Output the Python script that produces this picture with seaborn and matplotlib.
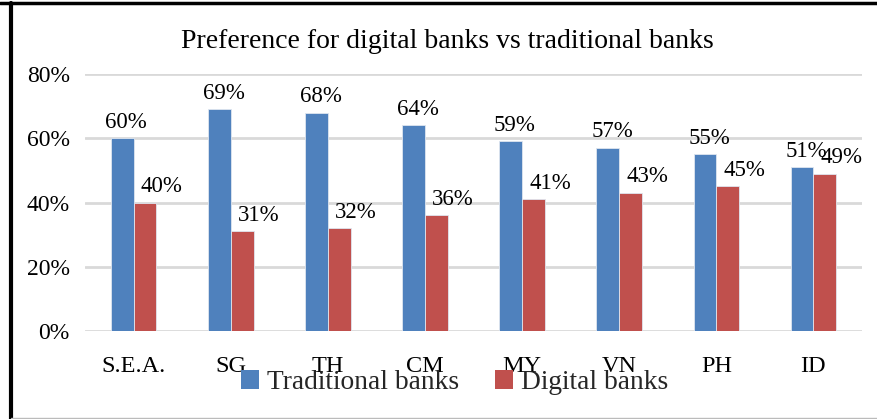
import matplotlib
matplotlib.use("Agg")
import matplotlib.pyplot as plt
import seaborn as sns
import pandas as pd
from matplotlib.lines import Line2D
from matplotlib.patches import Patch
from matplotlib.ticker import PercentFormatter

categories = ["S.E.A.", "SG", "TH", "CM", "MY", "VN", "PH", "ID"]
traditional = [60, 69, 68, 64, 59, 57, 55, 51]
digital = [40, 31, 32, 36, 41, 43, 45, 49]
series_names = ["Traditional banks", "Digital banks"]
colors = ["#4F81BD", "#C0504D"]
title = "Preference for digital banks vs traditional banks"
yticks = [0, 20, 40, 60, 80]

df = pd.DataFrame({
    "Region": categories * 2,
    "Series": [series_names[0]] * len(categories) + [series_names[1]] * len(categories),
    "Value": traditional + digital,
})

sns.set_theme(style="white")
plt.rcParams["font.family"] = ["Liberation Serif", "DejaVu Serif"]

fig = plt.figure(figsize=(8.78, 4.19), dpi=100)
ax = fig.add_axes([0.0968, 0.21, 0.885, 0.6134])

sns.barplot(data=df, x="Region", y="Value", hue="Series", palette=colors,
            width=0.47, gap=0, ax=ax, edgecolor="#dfe6f0", linewidth=0.6,
            saturation=1)

ax.set_xlim(-0.5, len(categories) - 0.5)
ax.set_ylim(0, 80)
ax.set_yticks(yticks)
ax.yaxis.set_major_formatter(PercentFormatter(decimals=0))
ax.grid(axis="y", color="#D9D9D9", linewidth=2)
ax.set_axisbelow(True)
for s in ax.spines.values():
    s.set_visible(False)
ax.set_xlabel("")
ax.set_ylabel("")
ax.tick_params(axis="y", labelsize=17, pad=11, length=0, colors="black")
ax.tick_params(axis="x", labelsize=17.5, pad=18, length=0, colors="black")

offsets = [(3, 4), (12, 4)]
for cont, off in zip(ax.containers, offsets):
    anns = ax.bar_label(cont, fmt="%d%%", fontsize=16.5, padding=4, color="black")
    for a in anns:
        a.xyann = off

if ax.get_legend() is not None:
    ax.get_legend().remove()
handles = [Patch(facecolor=c, edgecolor="none") for c in colors]
fig.legend(handles, series_names, loc="center", bbox_to_anchor=(0.518, 0.087),
           ncol=2, frameon=False, fontsize=19.8, handlelength=0.65, handleheight=0.65,
           handletextpad=0.3, columnspacing=1.3, borderpad=0)

fig.text(0.51, 0.902, title, ha="center", va="center", fontsize=20, color="black")

# frame lines
fig.add_artist(Line2D([0, 0.999], [0.993, 0.993], color="black", linewidth=2.5))
fig.add_artist(Line2D([0.012, 0.012], [0, 0.993], color="black", linewidth=3))
fig.add_artist(Line2D([0.012, 1], [0.002, 0.002], color="#BBBBBB", linewidth=1))

fig.savefig("out.png", dpi=100)
